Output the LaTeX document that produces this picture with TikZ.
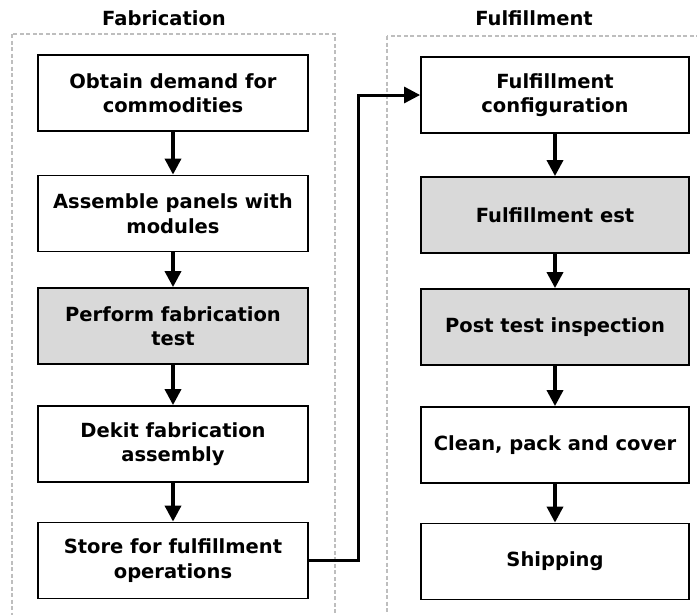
\documentclass[tikz,border=0pt]{standalone}
\usepackage{fontspec}
\setmainfont{DejaVu Sans}
\usetikzlibrary{arrows.meta}
\definecolor{boxgray}{HTML}{D9D9D9}
\definecolor{dashgray}{HTML}{BEBEBE}
\begin{document}
\begin{tikzpicture}[x=1pt,y=-1pt,
  stepbox/.style={draw=black, line width=1.8pt, minimum width=270pt, minimum height=76pt,
    align=center, inner sep=0pt, font=\fontsize{19.5}{24.5}\selectfont\bfseries},
  rstepbox/.style={stepbox, minimum width=268pt},
  graybox/.style={fill=boxgray},
  flow/.style={line width=3.5pt, -{Triangle[length=16pt,width=16pt]}},
  container/.style={draw=dashgray, line width=1.5pt, dash pattern=on 4pt off 2.5pt},
  title/.style={font=\fontsize{19.5}{24}\selectfont\bfseries}]
\useasboundingbox (0,0) rectangle (697,614);
\clip (0,0) rectangle (697,614);
\draw[container] (12,34) rectangle (335,630);
\draw[container] (387,36) rectangle (710,630);
\node[title] (tfab) at (164,18) {Fabrication};
\node[title] (tful) at (534,18) {Fulfillment};
\node[stepbox] (L1) at (173,93) {Obtain demand for\\commodities};
\node[stepbox] (L2) at (173,213.5) {Assemble panels with\\modules};
\node[stepbox, graybox] (L3) at (173,326) {Perform fabrication\\test};
\node[stepbox] (L4) at (173,444) {Dekit fabrication\\assembly};
\node[stepbox] (L5) at (173,560.5) {Store for fulfillment\\operations};
\node[rstepbox] (R1) at (555,95) {Fulfillment\\configuration};
\node[rstepbox, graybox] (R2) at (555,215) {Fulfillment est};
\node[rstepbox, graybox] (R3) at (555,327) {Post test inspection};
\node[rstepbox] (R4) at (555,445) {Clean, pack and cover};
\node[rstepbox] (R5) at (555,561.5) {Shipping};
\draw[flow] (L1) -- (L2);
\draw[flow] (L2) -- (L3);
\draw[flow] (L3) -- (L4);
\draw[flow] (L4) -- (L5);
\draw[flow] (R1) -- (R2);
\draw[flow] (R2) -- (R3);
\draw[flow] (R3) -- (R4);
\draw[flow] (R4) -- (R5);
\coordinate (bend) at (358,560.5);
\draw[line width=3pt, -{Triangle[length=16pt,width=16pt]}] (L5.east) -- (bend) |- (R1.west);
\end{tikzpicture}
\end{document}
